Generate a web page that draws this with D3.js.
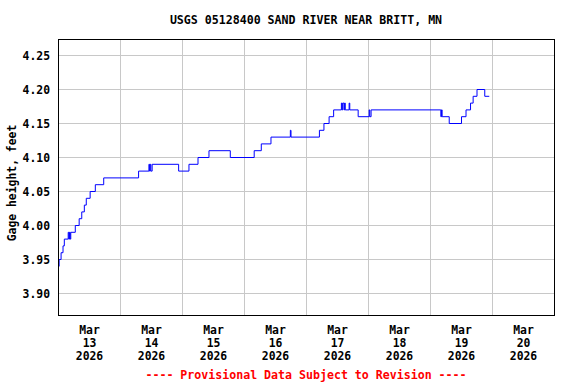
<!DOCTYPE html>
<html>
<head>
<meta charset="utf-8">
<script src="https://cdn.jsdelivr.net/npm/d3@7/dist/d3.min.js"></script>
<style>
  body { margin: 0; background: #fff; }
  text { font-family: "DejaVu Sans Mono", monospace; font-weight: bold; }
</style>
</head>
<body>
<svg id="chart" width="576" height="384"></svg>
<script>
// gage height readings, only where the value steps (15-min data)
const stepTimes = [
  "2026-03-13 00:00", "2026-03-13 00:15", "2026-03-13 01:00", "2026-03-13 01:45",
  "2026-03-13 02:15", "2026-03-13 03:45", "2026-03-13 04:00", "2026-03-13 04:15",
  "2026-03-13 04:30", "2026-03-13 04:45", "2026-03-13 06:30", "2026-03-13 08:00",
  "2026-03-13 09:00", "2026-03-13 10:00", "2026-03-13 10:45", "2026-03-13 12:15",
  "2026-03-13 14:15", "2026-03-13 17:30", "2026-03-14 07:00", "2026-03-14 11:00",
  "2026-03-14 11:15", "2026-03-14 11:30", "2026-03-14 11:45", "2026-03-14 12:15",
  "2026-03-14 22:30", "2026-03-15 02:30", "2026-03-15 06:00", "2026-03-15 10:15",
  "2026-03-15 18:30", "2026-03-16 03:45", "2026-03-16 06:30", "2026-03-16 10:15",
  "2026-03-16 17:45", "2026-03-16 18:00", "2026-03-17 05:00", "2026-03-17 06:45",
  "2026-03-17 08:45", "2026-03-17 10:30", "2026-03-17 13:30", "2026-03-17 13:45",
  "2026-03-17 14:00", "2026-03-17 14:30", "2026-03-17 14:45", "2026-03-17 15:00",
  "2026-03-17 16:30", "2026-03-17 16:45", "2026-03-17 20:00", "2026-03-18 00:15",
  "2026-03-18 00:30", "2026-03-18 01:00", "2026-03-19 04:00", "2026-03-19 04:15",
  "2026-03-19 04:30", "2026-03-19 07:15", "2026-03-19 12:00", "2026-03-19 13:45",
  "2026-03-19 15:30", "2026-03-19 16:30", "2026-03-19 18:00", "2026-03-19 21:00",
  "2026-03-19 22:45"
];
const stepValues = [
  3.94, 3.95, 3.96, 3.97,
  3.98, 3.99, 3.98, 3.99,
  3.98, 3.99, 4.00, 4.01,
  4.02, 4.03, 4.04, 4.05,
  4.06, 4.07, 4.08, 4.09,
  4.08, 4.09, 4.08, 4.09,
  4.08, 4.09, 4.10, 4.11,
  4.10, 4.11, 4.12, 4.13,
  4.14, 4.13, 4.14, 4.15,
  4.16, 4.17, 4.18, 4.17,
  4.18, 4.17, 4.18, 4.17,
  4.18, 4.17, 4.16, 4.17,
  4.16, 4.17, 4.16, 4.17,
  4.16, 4.15, 4.16, 4.17,
  4.18, 4.19, 4.20, 4.19,
  4.19
];

const yTicks = [3.90, 3.95, 4.00, 4.05, 4.10, 4.15, 4.20, 4.25];
const dayLabels = ["2026-03-13", "2026-03-14", "2026-03-15", "2026-03-16",
                   "2026-03-17", "2026-03-18", "2026-03-19", "2026-03-20"];
const chartTitle = "USGS 05128400 SAND RIVER NEAR BRITT, MN";
const yLabel = "Gage height, feet";
const footNote = "---- Provisional Data Subject to Revision ----";

let parseTime = d3.timeParse("%Y-%m-%d %H:%M");
let parseDay = d3.timeParse("%Y-%m-%d");
let data = stepTimes.map(function(t, i){
  return {time: parseTime(t), value: stepValues[i]};
});

let svg = d3.select("#chart");

let plotLeft = 58.5, plotRight = 554.5, plotTop = 39.5, plotBottom = 315.5;

let xScale = d3.scaleTime()
  .domain([parseTime("2026-03-13 00:00"), parseTime("2026-03-21 00:00")])
  .range([plotLeft, plotRight]);

let yScale = d3.scaleLinear()
  .domain([3.90, 4.25])
  .range([293.5, 55.5]);

let gGrid = svg.append("g");
let gLine = svg.append("g");
let gText = svg.append("g");

//grid lines
gGrid.selectAll(".hgrid")
  .data(yTicks)
  .enter()
  .append("line")
  .attr("class", "hgrid")
  .attr("x1", plotLeft).attr("x2", plotRight)
  .attr("y1", function(d){ return Math.round(yScale(d) - 0.5) + 0.5; })
  .attr("y2", function(d){ return Math.round(yScale(d) - 0.5) + 0.5; })
  .attr("stroke", "#c8c8c8")
  .attr("stroke-width", 1);

let midnights = d3.timeDay.range(d3.timeDay.offset(xScale.domain()[0], 1), xScale.domain()[1]);
gGrid.selectAll(".vgrid")
  .data(midnights)
  .enter()
  .append("line")
  .attr("class", "vgrid")
  .attr("x1", function(d){ return xScale(d); })
  .attr("x2", function(d){ return xScale(d); })
  .attr("y1", plotTop).attr("y2", plotBottom)
  .attr("stroke", "#c8c8c8")
  .attr("stroke-width", 1);

//the data line
let line = d3.line()
  .x(function(d){ return xScale(d.time); })
  .y(function(d){ return yScale(d.value); })
  .curve(d3.curveStepAfter);

gLine.append("path")
  .datum(data)
  .attr("d", line)
  .attr("fill", "none")
  .attr("stroke", "#0000ff")
  .attr("stroke-width", 1);

//frame
svg.append("rect")
  .attr("x", plotLeft).attr("y", plotTop)
  .attr("width", plotRight - plotLeft).attr("height", plotBottom - plotTop)
  .attr("fill", "none")
  .attr("stroke", "#000")
  .attr("stroke-width", 1);

//y tick labels
gText.selectAll(".ylab")
  .data(yTicks)
  .enter()
  .append("text")
  .attr("class", "ylab")
  .attr("x", 50)
  .attr("y", function(d){ return yScale(d) + 4; })
  .attr("text-anchor", "end")
  .attr("font-size", "11.4px")
  .text(function(d){ return d3.format(".2f")(d); });

//x labels at noon of each day
let xLabels = gText.selectAll(".xlab")
  .data(dayLabels)
  .enter()
  .append("text")
  .attr("class", "xlab")
  .attr("text-anchor", "middle")
  .attr("font-size", "11.4px")
  .attr("transform", function(d){
    let noon = d3.timeHour.offset(parseDay(d), 12);
    return "translate(" + xScale(noon) + ",0)";
  });

xLabels.append("tspan").attr("x", 0).attr("y", 334)
  .text(function(d){ return d3.timeFormat("%b")(parseDay(d)); });
xLabels.append("tspan").attr("x", 0).attr("y", 347)
  .text(function(d){ return d3.timeFormat("%-d")(parseDay(d)); });
xLabels.append("tspan").attr("x", 0).attr("y", 360)
  .text(function(d){ return d3.timeFormat("%Y")(parseDay(d)); });

//title, axis label and footer
gText.append("text")
  .attr("x", 306)
  .attr("y", 24)
  .attr("text-anchor", "middle")
  .attr("font-size", "11.6px")
  .text(chartTitle);

gText.append("text")
  .attr("transform", "translate(16,183) rotate(-90)")
  .attr("text-anchor", "middle")
  .attr("font-size", "11.4px")
  .text(yLabel);

gText.append("text")
  .attr("x", 306)
  .attr("y", 379)
  .attr("text-anchor", "middle")
  .attr("font-size", "11.6px")
  .attr("fill", "#ff0000")
  .text(footNote);
</script>
</body>
</html>
